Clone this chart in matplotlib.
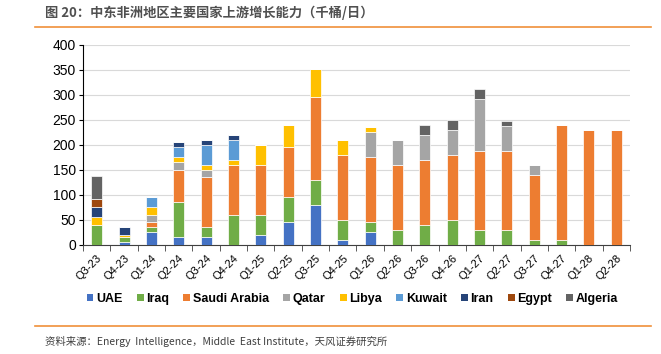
import numpy as np
import matplotlib
matplotlib.use('Agg')
import matplotlib.pyplot as plt
from matplotlib.patches import Patch
from matplotlib.lines import Line2D

plt.rcParams['font.family'] = ['Liberation Sans', 'Noto Sans CJK SC', 'DejaVu Sans']
plt.rcParams['axes.unicode_minus'] = False

# 季度
quarters = ['Q3-23', 'Q4-23', 'Q1-24', 'Q2-24', 'Q3-24', 'Q4-24', 'Q1-25', 'Q2-25',
            'Q3-25', 'Q4-25', 'Q1-26', 'Q2-26', 'Q3-26', 'Q4-26', 'Q1-27', 'Q2-27',
            'Q3-27', 'Q4-27', 'Q1-28', 'Q2-28']

# 各国数据（千桶/日）
uae     = [0, 5, 25, 15, 15, 0, 20, 45, 80, 10, 25, 0, 0, 0, 0, 0, 0, 0, 0, 0]
iraq    = [40, 10, 10, 70, 20, 60, 40, 50, 50, 40, 20, 30, 40, 50, 30, 30, 10, 10, 0, 0]
saudi   = [0, 0, 10, 65, 100, 100, 100, 100, 165, 130, 130, 130, 130, 130, 157, 157, 130, 230, 230, 230]
qatar   = [0, 0, 15, 15, 15, 0, 0, 0, 0, 0, 50, 50, 50, 50, 105, 50, 20, 0, 0, 0]
libya   = [15, 5, 15, 10, 10, 10, 40, 45, 57, 30, 10, 0, 0, 0, 0, 0, 0, 0, 0, 0]
kuwait  = [0, 0, 20, 20, 40, 40, 0, 0, 0, 0, 0, 0, 0, 0, 0, 0, 0, 0, 0, 0]
iran    = [20, 16, 0, 10, 10, 10, 0, 0, 0, 0, 0, 0, 0, 0, 0, 0, 0, 0, 0, 0]
egypt   = [16, 0, 0, 0, 0, 0, 0, 0, 0, 0, 0, 0, 0, 0, 0, 0, 0, 0, 0, 0]
algeria = [46, 0, 0, 0, 0, 0, 0, 0, 0, 0, 0, 0, 20, 20, 20, 10, 0, 0, 0, 0]

series = [
    ('UAE', uae, '#4472C4'),
    ('Iraq', iraq, '#70AD47'),
    ('Saudi Arabia', saudi, '#ED7D31'),
    ('Qatar', qatar, '#A5A5A5'),
    ('Libya', libya, '#FFC000'),
    ('Kuwait', kuwait, '#5B9BD5'),
    ('Iran', iran, '#264478'),
    ('Egypt', egypt, '#9E480E'),
    ('Algeria', algeria, '#636363'),
]

fig = plt.figure(figsize=(6.61, 3.54), dpi=100)
ax = fig.add_axes([0.1256, 0.308, 0.8274, 0.565])

x = np.arange(len(quarters))
bottom = np.zeros(len(quarters))
for name, vals, color in series:
    vals = np.array(vals, dtype=float)
    ax.bar(x, vals, width=0.4, bottom=bottom, color=color, edgecolor='white',
           linewidth=0.5, zorder=3)
    bottom += vals

ax.set_ylim(0, 400)
ax.set_yticks(np.arange(0, 401, 50))
ax.set_xlim(-0.5, len(quarters) - 0.5)
ax.grid(axis='y', color='#d9d9d9', linewidth=0.8, zorder=0)
ax.spines['top'].set_visible(False)
ax.spines['right'].set_visible(False)
ax.spines['left'].set_color('black')
ax.spines['bottom'].set_color('#404040')
ax.tick_params(axis='y', labelsize=10, length=3, direction='out', pad=2)

# x轴：标签在中心，刻度在类别边界
ax.set_xticks(x)
ax.set_xticklabels(quarters, rotation=45, ha='right', rotation_mode='anchor', fontsize=8)
ax.tick_params(axis='x', which='major', length=0, pad=6)
ax.set_xticks(np.arange(-0.5, len(quarters), 1), minor=True)
ax.tick_params(axis='x', which='minor', length=4, direction='out', color='#404040')

handles = [Patch(facecolor=c, edgecolor='none', label=n) for n, v, c in series]
fig.legend(handles=handles, loc='center', bbox_to_anchor=(0.533, 0.155), ncol=9,
           frameon=False, handlelength=0.55, handleheight=0.55, handletextpad=0.2,
           columnspacing=1.15, prop={'weight': 'bold', 'size': 9})

# 标题与来源
fig.text(0.068, 0.965, '图 20：中东非洲地区主要国家上游增长能力（千桶/日）',
         fontsize=9.5, color='#505050', weight='bold', va='center',
         family=['Noto Sans CJK SC', 'DejaVu Sans'])
fig.add_artist(Line2D([0.053, 0.985], [0.925, 0.925], color='#F0903A', linewidth=1.2))
fig.add_artist(Line2D([0.053, 0.985], [0.078, 0.078], color='#F0903A', linewidth=1.2))
fig.text(0.068, 0.035, '资料来源：Energy  Intelligence，Middle  East Institute，天风证券研究所',
         fontsize=7.5, color='#404040', va='center',
         family=['Noto Sans CJK SC', 'DejaVu Sans'])

fig.savefig('out.png', dpi=100)
